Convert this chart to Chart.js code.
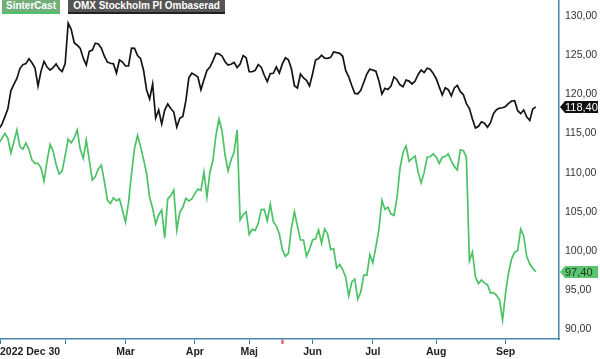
<!DOCTYPE html>
<html>
<head>
<meta charset="utf-8">
<script src="https://cdn.jsdelivr.net/npm/chart.js@4/dist/chart.umd.min.js"></script>
<style>
  html, body { margin: 0; padding: 0; background: #fff; }
  #wrap { position: relative; width: 600px; height: 359px; }
  .tag { position: absolute; top: 0; height: 12px; line-height: 13px; color: #fff; white-space: nowrap;
         font: bold 10px "Liberation Sans", Arial, sans-serif; text-align: center; }
  #tagSc { left: 2px; width: 58px; background: #72ad7a; border-bottom: 2px solid #4cc36a; }
  #tagOmx { left: 68px; width: 157px; background: #555; border-bottom: 2px solid #222; }
</style>
</head>
<body>
<div id="wrap">
  <canvas id="chart" width="600" height="359"></canvas>
  <div class="tag" id="tagSc">SinterCast</div>
  <div class="tag" id="tagOmx">OMX Stockholm PI Ombaserad</div>
</div>
<script>
// trading days from 2022-12-30 (index 0) to 2023-09-15 (index 178)
const sinterCast = [
  113.80,114.35,115.02,114.40,112.52,113.94,115.46,113.35,113.01,113.81,
  112.97,111.61,111.21,111.21,110.60,108.95,111.53,113.61,112.77,111.07,
  109.85,110.23,112.18,114.30,113.84,114.46,115.46,113.00,111.85,114.18,
  111.63,109.08,109.53,110.48,110.97,108.91,106.52,106.07,106.80,106.45,
  106.67,105.18,103.72,106.20,109.91,113.14,114.76,113.34,111.68,109.88,
  106.86,105.47,103.47,104.62,105.25,101.68,106.66,107.08,107.81,102.70,
  104.95,105.60,106.75,106.42,106.66,107.35,107.93,107.75,110.10,106.91,
  110.10,111.63,114.82,116.86,115.33,112.27,110.23,111.63,112.65,115.46,
  103.98,104.65,105.02,102.14,102.78,102.65,103.55,105.31,105.33,103.88,
  106.01,103.77,103.21,102.19,100.19,99.36,99.74,102.95,105.02,103.19,
  101.43,101.43,99.36,100.23,101.43,101.58,102.70,101.02,102.84,102.21,
  100.19,100.33,97.86,98.30,97.66,96.66,94.28,96.04,96.45,93.90,
  94.81,96.96,96.96,99.57,98.53,100.56,102.75,106.48,105.34,105.60,
  104.76,104.57,106.84,110.57,112.60,113.42,111.47,111.85,112.13,110.08,
  108.71,110.05,111.98,112.05,112.42,112.03,111.19,111.98,112.08,112.42,
  111.53,110.78,110.36,112.92,112.81,112.01,98.75,99.90,96.75,95.87,
  96.33,95.92,95.73,94.65,94.71,94.36,93.77,91.22,94.72,97.30,
  99.02,99.87,100.06,102.83,101.94,99.32,98.39,97.81,97.40
];
const omxPi = [
  115.59,116.16,117.14,118.16,120.45,121.29,122.03,123.30,123.80,123.93,
  124.54,124.04,123.37,121.07,122.97,124.21,123.49,123.11,123.42,123.88,
  123.26,122.92,123.94,129.07,128.29,126.59,126.27,125.87,124.62,123.75,
  125.48,125.66,126.52,126.43,125.89,124.87,124.12,123.97,123.90,122.73,
  124.39,124.12,123.62,123.62,125.90,125.87,124.96,124.57,123.05,120.56,
  119.41,121.33,116.99,118.01,116.22,118.01,118.77,118.20,117.75,115.84,
  116.95,117.19,119.16,122.12,122.70,122.49,122.22,120.60,121.86,123.05,
  123.49,124.31,125.23,125.18,124.90,124.17,123.75,123.84,124.08,123.43,
  123.86,124.95,124.67,122.89,122.89,123.07,123.81,123.47,122.44,121.64,
  122.66,122.69,123.49,122.73,123.89,124.67,124.41,123.26,121.10,120.82,
  122.59,122.09,121.80,121.07,122.60,124.39,124.57,125.00,124.62,124.60,
  124.72,125.41,125.32,125.24,124.86,123.03,122.24,121.13,120.13,120.08,
  120.53,121.54,122.60,123.24,123.09,122.95,121.72,120.05,120.78,120.62,
  121.05,122.22,121.87,121.22,120.97,121.82,121.70,121.33,121.71,122.54,
  123.10,122.78,123.33,123.21,122.68,122.00,120.96,119.92,120.85,120.60,
  119.82,120.83,121.16,120.34,119.96,118.83,118.19,116.87,115.71,115.93,
  116.50,116.33,115.80,116.39,117.56,118.05,118.26,118.30,118.46,118.85,
  119.16,119.20,117.92,117.55,118.01,117.13,116.67,118.12,118.40
];

// x axis: trading-day index of each month start, plus the event marker
const xMin = 0.4, xMax = 185.7;
const xTickIdx    = [xMin, 22, 42, 65, 83, 94, 104, 124, 145, 168, xMax];
const xTickLabels = ['2022 Dec 30', '', 'Mar', 'Apr', 'Maj', '', 'Jun', 'Jul', 'Aug', 'Sep', ''];
const eventIdx = 94;
const yTicks = [90, 95, 100, 105, 110, 115, 120, 125, 130];

const fmt = v => v.toFixed(2).replace('.', ',');
const axisBlue = '#4b86ad';
const fontFam = '"Liberation Sans", Arial, sans-serif';

// last-value badges on the right axis
const badges = {
  id: 'badges',
  afterDraw(chart) {
    const c = chart.ctx, ys = chart.scales.y, right = chart.chartArea.right;
    chart.data.datasets.forEach(ds => {
      const last = ds.data[ds.data.length - 1].y;
      const py = Math.round(ys.getPixelForValue(last));
      c.save();
      c.fillStyle = ds.badgeBg;
      c.beginPath();
      c.moveTo(right + 1, py);
      c.lineTo(right + 6, py - 6);
      c.lineTo(598, py - 6);
      c.lineTo(598, py + 6);
      c.lineTo(right + 6, py + 6);
      c.closePath();
      c.fill();
      c.fillStyle = ds.badgeText;
      c.font = '11px ' + fontFam;
      c.textBaseline = 'middle';
      c.fillText(fmt(last), right + 6, py + 1);
      c.restore();
    });
  }
};

new Chart(document.getElementById('chart').getContext('2d'), {
  type: 'line',
  data: {
    datasets: [
      {
        label: 'OMX Stockholm PI Ombaserad',
        data: omxPi.map((v, i) => ({ x: i, y: v })),
        borderColor: '#141414',
        borderWidth: 1.7,
        pointRadius: 0,
        tension: 0,
        badgeBg: '#111', badgeText: '#fff'
      },
      {
        label: 'SinterCast',
        data: sinterCast.map((v, i) => ({ x: i, y: v })),
        borderColor: '#4cc266',
        borderWidth: 1.7,
        pointRadius: 0,
        tension: 0,
        badgeBg: '#5cc46f', badgeText: '#1c3a22'
      }
    ]
  },
  options: {
    responsive: false,
    animation: false,
    layout: { padding: 0 },
    plugins: { legend: { display: false }, tooltip: { enabled: false } },
    scales: {
      x: {
        type: 'linear',
        min: xMin, max: xMax,
        afterBuildTicks: s => { s.ticks = xTickIdx.map(v => ({ value: v })); },
        afterFit: s => { s.height = 20; s.paddingLeft = 0; s.paddingRight = 0; },
        ticks: {
          autoSkip: false, maxRotation: 0, align: 'inner', padding: 2,
          color: '#222',
          font: { family: fontFam, size: 10.5, weight: 'bold' },
          callback: (v, i) => xTickLabels[i]
        },
        grid: {
          drawOnChartArea: false, drawTicks: true, tickLength: 5,
          tickWidth: ctx => ctx.tick && ctx.tick.value === eventIdx ? 2 : 1,
          color: ctx => ctx.tick && ctx.tick.value === eventIdx ? '#ee4848'
                      : (ctx.tick && ctx.tick.value === xMax ? 'rgba(0,0,0,0)' : '#3d7aa3')
        },
        border: { display: true, color: axisBlue, width: 1.5 }
      },
      y: {
        type: 'linear',
        position: 'right',
        min: 88.8, max: 132.04,
        afterBuildTicks: s => { s.ticks = yTicks.map(v => ({ value: v })); },
        afterFit: s => { s.width = 41; s.paddingTop = 0; s.paddingBottom = 0; },
        ticks: {
          padding: 6, color: '#333',
          font: { family: fontFam, size: 10.5 },
          callback: v => fmt(v)
        },
        grid: { display: false, drawTicks: false },
        border: { display: true, color: axisBlue, width: 1.5 }
      }
    }
  },
  plugins: [badges]
});
</script>
</body>
</html>
